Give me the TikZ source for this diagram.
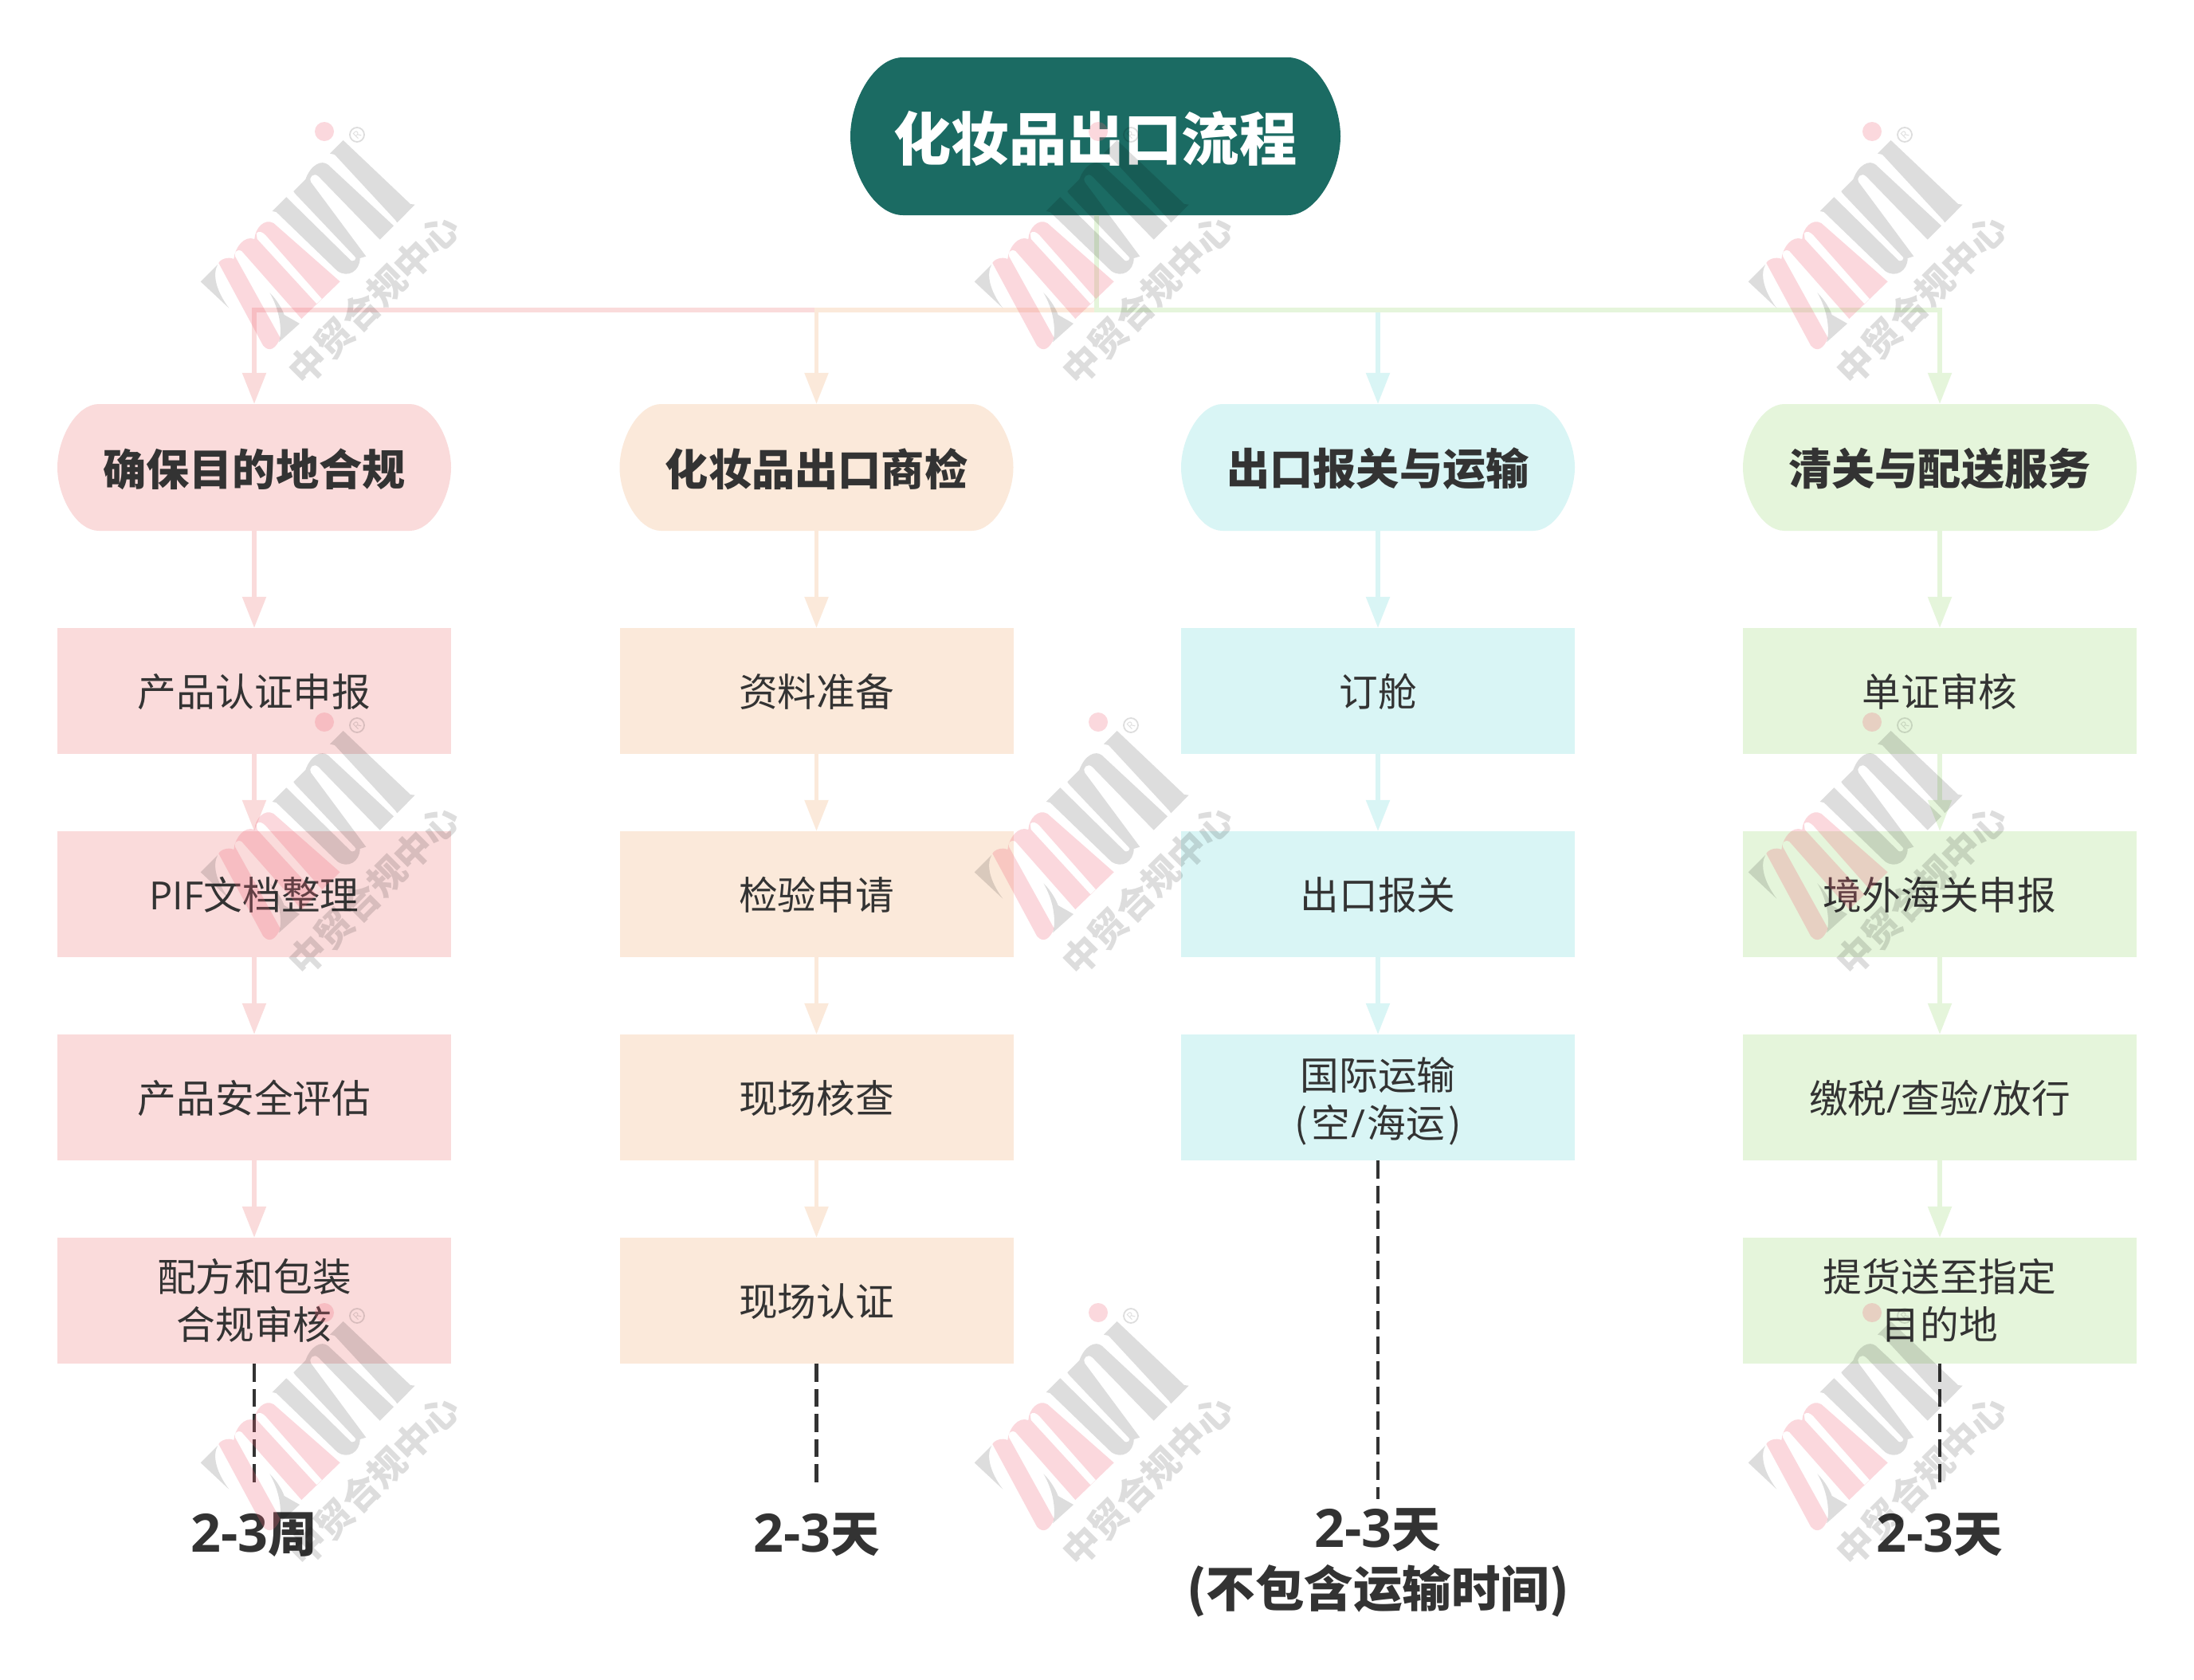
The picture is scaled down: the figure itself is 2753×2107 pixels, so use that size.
\documentclass[tikz,border=0pt]{standalone}
\usepackage{fontspec}
\setmainfont{Noto Sans CJK SC}
\newfontfamily\lat{Open Sans}
\newfontfamily\latb[Scale=1.08]{Open Sans}
\usetikzlibrary{arrows.meta}
\definecolor{pinkc}{HTML}{FADBDB}
\definecolor{peachc}{HTML}{FBE9DA}
\definecolor{cyanc}{HTML}{D9F5F5}
\definecolor{greenc}{HTML}{E5F5DB}
\definecolor{titlec}{HTML}{1B6B63}
\definecolor{inkc}{HTML}{333333}
\definecolor{wmpink}{RGB}{240,100,120}
\newcommand\os[1]{{\lat #1}}
\newcommand\osb[1]{{\latb #1}}
\newcommand\drop[2]{\raisebox{-#1}[\height][\depth]{#2}}
\newcommand\softfill[6]{%
  \pgfmathsetmacro\xa{#3-#5}\pgfmathsetmacro\xb{#3-0.45*#5}\pgfmathsetmacro\yb{0.45*#4}%
  \fill[#6,shift={(#1,#2)}] (-\xa,-#4) -- (\xa,-#4) .. controls (\xb,-#4) and (#3,-\yb) .. (#3,0)
    .. controls (#3,\yb) and (\xb,#4) .. (\xa,#4) -- (-\xa,#4)
    .. controls (-\xb,#4) and (-#3,\yb) .. (-#3,0) .. controls (-#3,-\yb) and (-\xb,-#4) .. (-\xa,-#4) -- cycle;}
\newcommand\wmark[2]{%
  \begin{scope}[shift={(#1,#2)}]
    \draw[wmg,line width=1.8pt,fill=none] (448,169) circle (9pt);
    \node[wmg,rotate=45,inner sep=0pt,font=\lat\fontsize{13}{13}\selectfont] (wmr#1#2) at (448,169) {R};
    \node[wmg,rotate=45,inner sep=0pt,font=\bfseries\fontsize{46.5}{46.5}\selectfont] (wmt#1#2) at (469,375.5) {中贸合规中心};
    \fill[wmp] (407,165) circle (12pt);
    \begin{scope}[shift={(340,150)},x=0.33333pt,y=-0.33333pt]
      \fill[wmg] (222,128) -- (272,78) -- (525,318) -- (542,320) -- (475,388) -- (468,378) -- (240,132) -- cycle;
      \fill[wmg] (5,345) -- (58,292) -- (295,525) .. controls (310,545) and (328,520) .. (315,515) -- (90,278) -- (85,270) -- (130,225)
        .. controls (150,170) and (190,150) .. (215,170) -- (462,400) -- (410,452) -- (180,215)
        .. controls (160,195) and (140,220) .. (150,235) -- (358,515) -- (335,522)
        .. controls (335,570) and (290,598) .. (250,570) -- (20,348) -- cycle;
    \end{scope}
    \begin{scope}[shift={(240,280)},x=0.33333pt,y=-0.33333pt]
      \fill[wmg] (35,220) -- (100,155) .. controls (80,190) and (90,250) .. (142,320) -- cycle;
      \fill[wmg] (295,262) .. controls (325,290) and (345,330) .. (350,345) -- (408,378) -- (330,448) .. controls (345,400) and (330,320) .. (295,262) -- cycle;
      \fill[wmp,even odd rule] (103,150) .. controls (110,135) and (140,125) .. (160,135)
        .. controls (165,90) and (200,45) .. (238,60) .. controls (240,20) and (275,-20) .. (310,0)
        -- (560,220) -- (415,360) -- (190,105) .. controls (172,95) and (160,110) .. (165,125)
        -- (335,432) .. controls (320,470) and (295,490) .. (270,460) -- cycle
        (245,38) .. controls (255,25) and (270,35) .. (280,45) -- (492,285) -- (472,304) -- (248,60) -- cycle;
    \end{scope}
  \end{scope}}
\tikzset{
  x=1pt,y=-1pt,
  wmg/.style={black,opacity=0.135},
  wmp/.style={wmpink,opacity=0.25},
  softnode/.style={minimum width=494pt,minimum height=159pt,inner sep=0pt,text=inkc,font=\bfseries\fontsize{54.2}{64}\selectfont},
  plain/.style={minimum width=494pt,minimum height=158pt,inner sep=0pt,text=inkc,align=center,font=\fontsize{48.7}{60}\selectfont},
  flow/.style={line width=5.5pt,-{Triangle[length=39pt,width=29pt]}},
  dash line/.style={draw=inkc,line width=4.5pt,dash pattern=on 22.5pt off 9pt},
  timenode/.style={inner sep=0pt,text=inkc,align=center,font=\bfseries\fontsize{61.5}{75.5}\selectfont},
}
\begin{document}
\begin{tikzpicture}
\useasboundingbox (0,0) rectangle (2753,2107);
\fill[white] (0,0) rectangle (2753,2107);
% header backgrounds
\softfill{1374.5}{171}{307.5}{99}{66}{titlec}
\softfill{319}{586.5}{247}{79.5}{52}{pinkc}
\softfill{1024.5}{586.5}{247}{79.5}{52}{peachc}
\softfill{1729}{586.5}{247}{79.5}{52}{cyanc}
\softfill{2434}{586.5}{247}{79.5}{52}{greenc}
% nodes
\node[inner sep=0pt,minimum width=615pt,minimum height=198pt,text=white,font=\bfseries\fontsize{72.3}{86}\selectfont] (title) at (1374.5,171) {\drop{3pt}{化妆品出口流程}};
\node[softnode] (h1) at (319,586.5) {\drop{2pt}{确保目的地合规}};
\node[softnode] (h2) at (1024.5,586.5) {\drop{2pt}{化妆品出口商检}};
\node[softnode] (h3) at (1729,586.5) {\drop{2pt}{出口报关与运输}};
\node[softnode] (h4) at (2434,586.5) {\drop{2pt}{清关与配送服务}};
\node[plain,fill=pinkc] (a1) at (319,867) {\drop{1pt}{产品认证申报}};
\node[plain,fill=pinkc] (a2) at (319,1122) {\drop{1pt}{\os{PIF}文档整理}};
\node[plain,fill=pinkc] (a3) at (319,1377) {\drop{1pt}{产品安全评估}};
\node[plain,fill=pinkc] (a4) at (319,1632) {配方和包装\\合规审核};
\node[plain,fill=peachc] (b1) at (1024.5,867) {\drop{1pt}{资料准备}};
\node[plain,fill=peachc] (b2) at (1024.5,1122) {\drop{1pt}{检验申请}};
\node[plain,fill=peachc] (b3) at (1024.5,1377) {\drop{1pt}{现场核查}};
\node[plain,fill=peachc] (b4) at (1024.5,1632) {\drop{1pt}{现场认证}};
\node[plain,fill=cyanc] (c1) at (1729,867) {\drop{1pt}{订舱}};
\node[plain,fill=cyanc] (c2) at (1729,1122) {\drop{1pt}{出口报关}};
\node[plain,fill=cyanc] (c3) at (1729,1377) {\rule{0pt}{51pt}国际运输\\\kern1pt(\kern4pt 空\kern2pt\os{/}\kern2pt 海运\kern4pt)\kern1pt};
\node[plain,fill=greenc] (d1) at (2434,867) {\drop{1pt}{单证审核}};
\node[plain,fill=greenc] (d2) at (2434,1122) {\drop{1pt}{境外海关申报}};
\node[plain,fill=greenc] (d3) at (2434,1377) {\drop{1pt}{缴税\os{/}查验\os{/}放行}};
\node[plain,fill=greenc] (d4) at (2434,1632) {提货送至指定\\目的地};
\node[timenode] (ta) at (319,1926) {\osb{2-3}周};
\node[timenode] (tb) at (1024.5,1926) {\osb{2-3}天};
\node[timenode] (tc) at (1729,1961) {\osb{2-3}天\\(不包含运输时间)};
\node[timenode] (td) at (2434,1926) {\osb{2-3}天};
\coordinate (bus) at (1376,389);
\coordinate (ea) at (319,1861);
\coordinate (eb) at (1024.5,1861);
\coordinate (ec) at (1729,1881);
\coordinate (ed) at (2434,1861);
% connectors
\draw[flow,draw=pinkc] (title.south -| bus) -- (bus) -| (h1.north);
\draw[flow,draw=peachc] (title.south -| bus) -- (bus) -| (h2.north);
\draw[flow,draw=cyanc] (title.south -| bus) -- (bus) -| (h3.north);
\draw[flow,draw=greenc] (title.south -| bus) -- (bus) -| (h4.north);
\draw[flow,draw=pinkc] (h1) -- (a1);
\draw[flow,draw=pinkc] (a1) -- (a2);
\draw[flow,draw=pinkc] (a2) -- (a3);
\draw[flow,draw=pinkc] (a3) -- (a4);
\draw[flow,draw=peachc] (h2) -- (b1);
\draw[flow,draw=peachc] (b1) -- (b2);
\draw[flow,draw=peachc] (b2) -- (b3);
\draw[flow,draw=peachc] (b3) -- (b4);
\draw[flow,draw=cyanc] (h3) -- (c1);
\draw[flow,draw=cyanc] (c1) -- (c2);
\draw[flow,draw=cyanc] (c2) -- (c3);
\draw[flow,draw=greenc] (h4) -- (d1);
\draw[flow,draw=greenc] (d1) -- (d2);
\draw[flow,draw=greenc] (d2) -- (d3);
\draw[flow,draw=greenc] (d3) -- (d4);
\draw[dash line] (a4) -- (ea);
\draw[dash line] (b4) -- (eb);
\draw[dash line] (c3) -- (ec);
\draw[dash line] (d4) -- (ed);
% watermarks
\wmark{0}{0}\wmark{971}{0}\wmark{1942}{0}
\wmark{0}{741}\wmark{971}{741}\wmark{1942}{741}
\wmark{0}{1482}\wmark{971}{1482}\wmark{1942}{1482}
\end{tikzpicture}
\end{document}
